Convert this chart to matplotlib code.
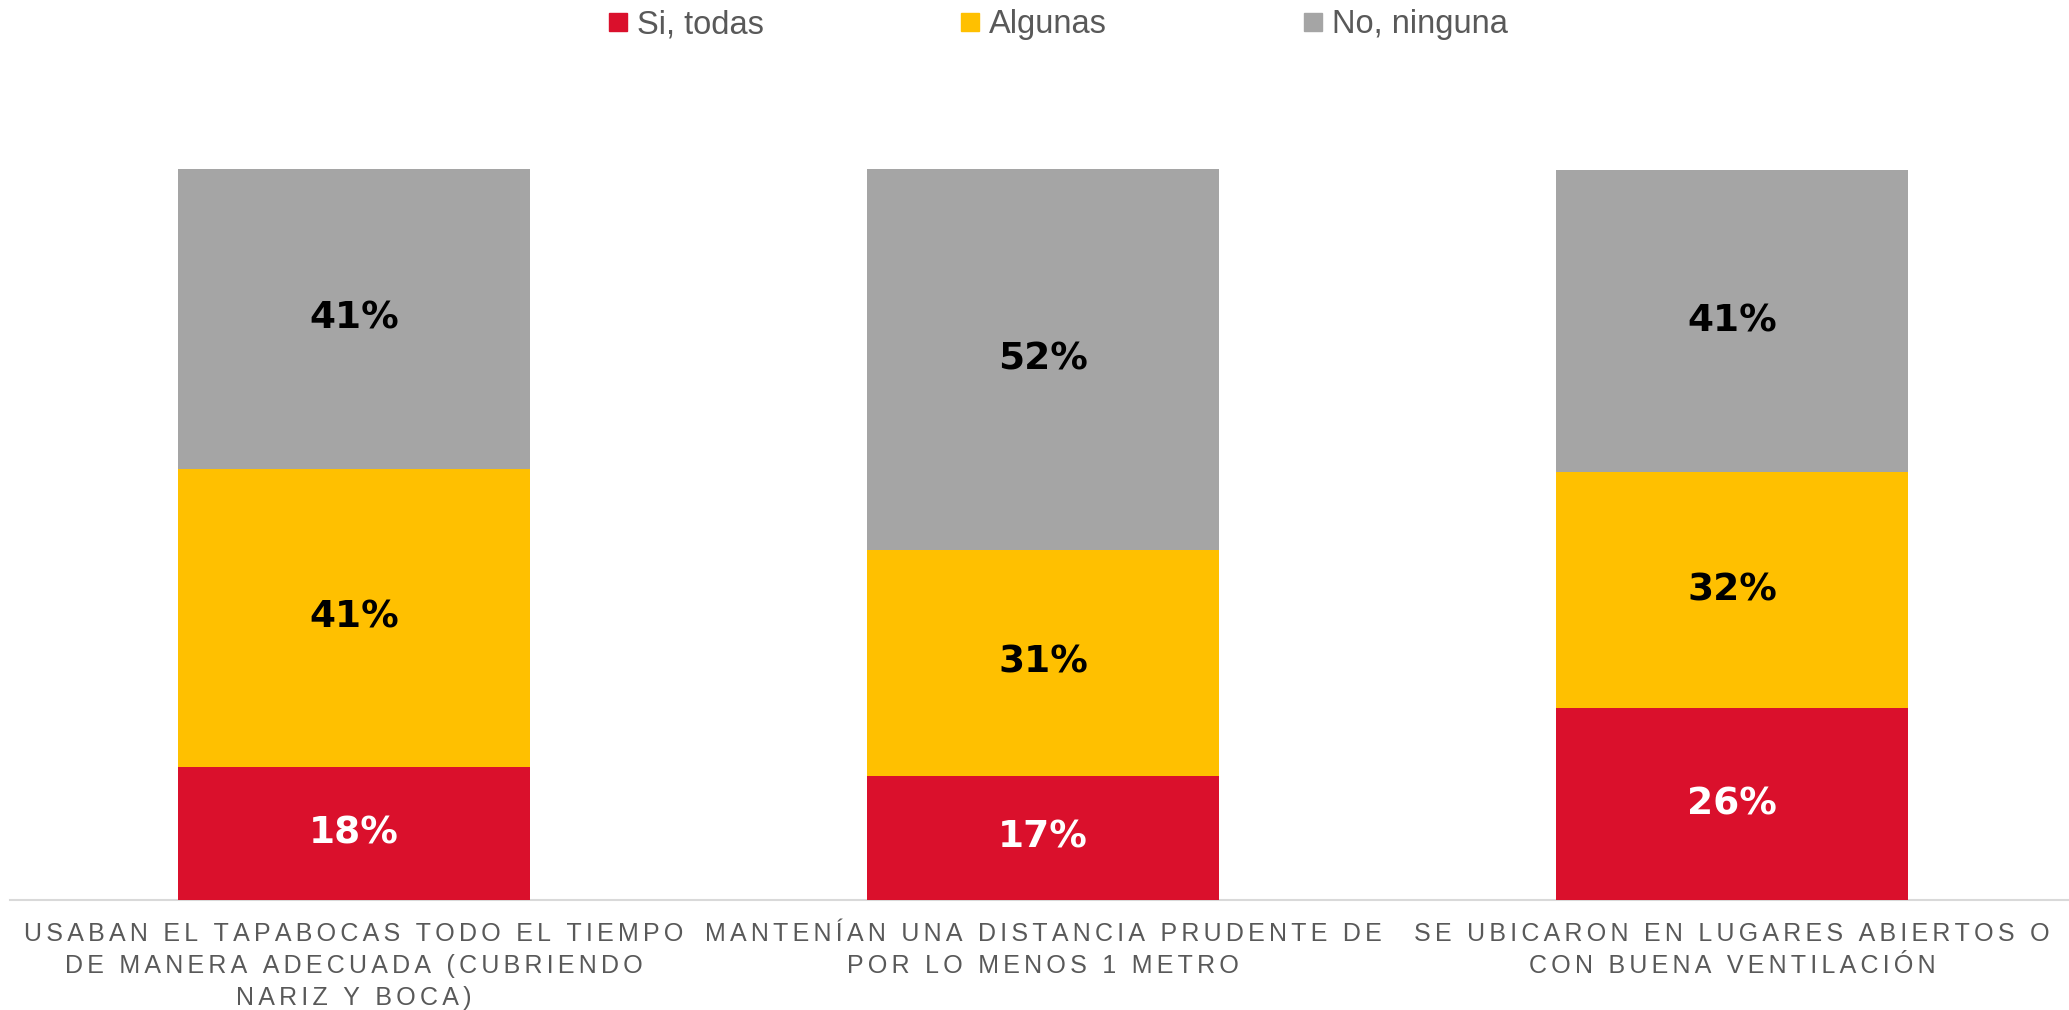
import matplotlib
matplotlib.use("Agg")
import matplotlib.pyplot as plt
from matplotlib.lines import Line2D
import numpy as np

categories = [
    "USABAN EL TAPABOCAS TODO EL TIEMPO\nDE MANERA ADECUADA (CUBRIENDO\nNARIZ Y BOCA)",
    "MANTENÍAN UNA DISTANCIA PRUDENTE DE\nPOR LO MENOS 1 METRO",
    "SE UBICARON EN LUGARES ABIERTOS O\nCON BUENA VENTILACIÓN",
]
series_names = ["Si, todas", "Algunas", "No, ninguna"]
si_todas = [18.2, 17.0, 26.2]
algunas = [40.8, 30.9, 32.3]
no_ninguna = [41.0, 52.1, 41.4]
colors = ["#DA102C", "#FFC000", "#A5A5A5"]
label_colors = ["white", "black", "black"]

plt.rcParams["font.family"] = ["Liberation Sans", "DejaVu Sans"]

fig = plt.figure(figsize=(20.69, 10.10), dpi=100)
renderer = fig.canvas.get_renderer()

def text_width(s, **kw):
    t = fig.text(0, 0, s, **kw)
    w = t.get_window_extent(renderer).width
    t.remove()
    return w

tick_kw = dict(family=["Liberation Sans", "DejaVu Sans"], fontsize=18)
# letter spacing (tracking) approximated with thin / hair spaces
first_line = categories[0].split("\n")[0]
target_w = 664.0
base_w = text_width(first_line, **tick_kw)
gap = (target_w - base_w) / (len(first_line) - 1)
thin = (text_width("A" + "\u2009" * 10 + "A", **tick_kw) - text_width("AA", **tick_kw)) / 10
hair = (text_width("A" + "\u200a" * 10 + "A", **tick_kw) - text_width("AA", **tick_kw)) / 10
best = None
for nt in range(0, 4):
    for nh in range(0, 5):
        err = abs(nt * thin + nh * hair - gap)
        if best is None or err < best[0]:
            best = (err, nt, nh)
spacer = "\u2009" * best[1] + "\u200a" * best[2]

def track(s):
    return "\n".join(spacer.join(list(line)) for line in s.split("\n"))

ax = fig.add_axes([9.5 / 2069, 110 / 1010, 2067 / 2069, 731 / 1010])

x = np.arange(len(categories))
bottom = np.zeros(len(categories))
for vals, col, lc in zip([si_todas, algunas, no_ninguna], colors, label_colors):
    vals = np.array(vals)
    ax.bar(x, vals, width=0.511, bottom=bottom, color=col, zorder=2)
    for xi, b, v in zip(x, bottom, vals):
        ax.text(xi, b + v / 2, f"{v:.0f}%", ha="center", va="center",
                fontsize=27, fontweight="bold", color=lc, zorder=3,
                family=["DejaVu Sans"])
    bottom += vals

ax.set_xlim(-0.5, 2.5)
ax.set_ylim(0, 100)
ax.set_yticks([])
ax.set_xticks(x)
ax.set_xticklabels([track(c) for c in categories], color="#595959",
                   linespacing=1.42, **tick_kw)
ax.tick_params(axis="x", length=0, pad=16)
for s in ["top", "right", "left"]:
    ax.spines[s].set_visible(False)
ax.spines["bottom"].set_color("#D9D9D9")
ax.spines["bottom"].set_linewidth(1.5)
ax.spines["bottom"].set_zorder(1)

handles = [Line2D([], [], marker="s", linestyle="none", markersize=13,
                  markerfacecolor=c, markeredgecolor=c) for c in colors]
fig.legend(handles, series_names, loc="center", bbox_to_anchor=(1058 / 2069, 1 - 25 / 1010),
           ncol=3, frameon=False, fontsize=23.5, labelcolor="#595959",
           handlelength=0.6, handletextpad=0.3, columnspacing=6.0)

fig.savefig("out.png", dpi=100)
